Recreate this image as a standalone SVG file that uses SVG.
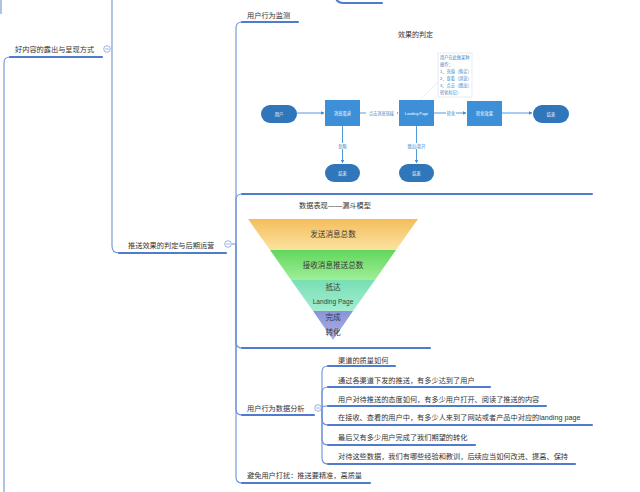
<svg xmlns="http://www.w3.org/2000/svg" width="640" height="492" viewBox="0 0 640 492">
<defs>
<style>
.t{font-family:"Liberation Sans","Noto Sans CJK SC",sans-serif;font-size:7.2px;fill:#333}
.ul{fill:none;stroke:#4f7ccf;stroke-width:2.2;stroke-linecap:round}
.br{fill:none;stroke:#6d92d8;stroke-width:1.1}
.cc{fill:#fff;stroke:#7f9edb;stroke-width:0.8}
.cm{stroke:#7f9edb;stroke-width:0.8}
.fr{fill:#3d8fd8}
.fp{fill:#2f76bb}
.fw{font-family:"Liberation Sans","Noto Sans CJK SC",sans-serif;font-size:4.2px;fill:#fff;text-anchor:middle}
.fl{fill:none;stroke:#3d8fd8;stroke-width:0.9}
.fs{font-family:"Liberation Sans","Noto Sans CJK SC",sans-serif;font-size:4.2px;fill:#3a7fc6}
.fu{font-family:"Liberation Serif","Noto Sans CJK SC",serif;font-size:7.6px;fill:#3a3a3a;text-anchor:middle}
</style>
<marker id="ah" viewBox="0 0 6 6" refX="5.5" refY="3" markerWidth="4" markerHeight="4" orient="auto"><path d="M0,0 L6,3 L0,6 z" fill="#3d8fd8"/></marker>
<linearGradient id="g1" x1="0" y1="0" x2="0" y2="1"><stop offset="0" stop-color="#f4bd5c"/><stop offset="1" stop-color="#fbe3a0"/></linearGradient>
<linearGradient id="g2" x1="0" y1="0" x2="0" y2="1"><stop offset="0" stop-color="#62d65c"/><stop offset="1" stop-color="#9eef98"/></linearGradient>
<linearGradient id="g3" x1="0" y1="0" x2="0" y2="1"><stop offset="0" stop-color="#78dfb4"/><stop offset="1" stop-color="#a3ecd2"/></linearGradient>
<linearGradient id="g4" x1="0" y1="0" x2="0" y2="1"><stop offset="0" stop-color="#8b93d6"/><stop offset="1" stop-color="#aab0e6"/></linearGradient>
</defs>
<rect width="640" height="492" fill="#fff"/>

<g id="connectors">
<path class="br" d="M1 0 V14"/>
<path class="br" d="M4 492 V63 Q4 57 10 57"/>
<path class="ul" d="M10 57 H102"/>
<path class="br" d="M112 0 V246 Q112 253 119 253"/>
<path class="ul" d="M119 253 H226"/>
<path class="ul" d="M336 -4 Q336 3 343 3 H382"/>
<path class="br" d="M232 244 H236 V28 Q236 22 242 22"/>
<path class="ul" d="M242 22 H298"/>
<path class="br" d="M236 244 V200 Q236 194 242 194"/>
<path class="ul" d="M242 194 H592"/>
<path class="br" d="M236 244 V342 Q236 348 242 348"/>
<path class="ul" d="M242 348 H430"/>
<path class="br" d="M236 244 V409 Q236 415 242 415"/>
<path class="ul" d="M242 415 H314"/>
<path class="br" d="M236 244 V477 Q236 483 242 483"/>
<path class="ul" d="M242 483 H370"/>
<path class="br" d="M322 408 V372 Q322 366 328 366"/>
<path class="ul" d="M328 366 H395"/>
<path class="br" d="M322 408 V393 Q322 387 328 387"/>
<path class="ul" d="M328 387 H490"/>
<path class="br" d="M322 408 C322 406 324 406 328 406"/>
<path class="ul" d="M328 406 H546"/>
<path class="br" d="M322 408 V419 Q322 425 328 425"/>
<path class="ul" d="M328 425 H592"/>
<path class="br" d="M322 408 V439 Q322 445 328 445"/>
<path class="ul" d="M328 445 H475"/>
<path class="br" d="M322 408 V458 Q322 464 328 464"/>
<path class="ul" d="M328 464 H575"/>
</g>

<g id="n-haoneirong">
<text class="t" x="15" y="51.6">好内容的露出与呈现方式</text>
<circle class="cc" cx="107" cy="49" r="3.3"/><line class="cm" x1="105.2" y1="49" x2="108.8" y2="49"/>
</g>

<g id="n-tuisong">
<text class="t" x="128" y="247.6">推送效果的判定与后期运营</text>
<circle class="cc" cx="228" cy="244" r="3.3"/><line class="cm" x1="226.2" y1="244" x2="229.8" y2="244"/>
</g>

<g id="n-jiance">
<text class="t" x="247" y="17.6">用户行为监测</text>
</g>

<g id="n-xiaoguo">
<text class="t" x="398" y="36.5" style="font-size:7px">效果的判定</text>
<rect class="fp" x="261" y="105" width="36" height="18" rx="9"/>
<text class="fw" x="279" y="115.5">用户</text>
<rect class="fr" x="325" y="100" width="35" height="26"/>
<text class="fw" x="342.5" y="114.5">消息渠道</text>
<rect class="fr" x="399" y="100" width="35" height="26"/>
<text class="fw" x="416.5" y="114.5" style="font-size:3.8px">Landing Page</text>
<rect class="fr" x="467" y="101" width="35" height="25"/>
<text class="fw" x="484.5" y="115">转化效果</text>
<rect class="fp" x="533" y="105" width="36" height="18" rx="9"/>
<text class="fw" x="551" y="115.5">结束</text>
<rect class="fp" x="325" y="164" width="35" height="18" rx="9"/>
<text class="fw" x="342.5" y="174.5">结束</text>
<rect class="fp" x="399" y="164" width="35" height="18" rx="9"/>
<text class="fw" x="416.5" y="174.5">结束</text>
<line class="fl" x1="297" y1="113" x2="324" y2="113" marker-end="url(#ah)"/>
<line class="fl" x1="360" y1="113" x2="398" y2="113" marker-end="url(#ah)"/>
<rect x="366" y="110" width="31" height="6" fill="#fff"/>
<text class="fs" x="381.5" y="114.5" text-anchor="middle">点击消息链接</text>
<line class="fl" x1="434" y1="113" x2="466" y2="113" marker-end="url(#ah)"/>
<rect x="446" y="110" width="10" height="6" fill="#fff"/>
<text class="fs" x="451" y="114.5" text-anchor="middle">转化</text>
<line class="fl" x1="502" y1="113" x2="532" y2="113" marker-end="url(#ah)"/>
<line class="fl" x1="342.5" y1="126" x2="342.5" y2="163" marker-end="url(#ah)"/>
<rect x="337" y="143" width="11" height="6" fill="#fff"/>
<text class="fs" x="342.5" y="147.5" text-anchor="middle">忽略</text>
<line class="fl" x1="416.5" y1="126" x2="416.5" y2="163" marker-end="url(#ah)"/>
<rect x="406" y="143" width="21" height="6" fill="#fff"/>
<text class="fs" x="416.5" y="147.5" text-anchor="middle">跳出/离开</text>
<line x1="438" y1="82" x2="420" y2="100" stroke="#d8dde4" stroke-width="0.8" stroke-dasharray="2 1"/>
<rect x="438" y="53" width="34" height="44" fill="#fff" stroke="#d6dde6" stroke-width="0.6"/>
<text class="fs" x="440" y="59">用户在此做某种</text>
<text class="fs" x="440" y="66">操作：</text>
<text class="fs" x="440" y="73">1、充值（购买）</text>
<text class="fs" x="440" y="80">2、查看（浏览）</text>
<text class="fs" x="440" y="87">3、点击（跳出）</text>
<text class="fs" x="440" y="94">转化标记）</text>
</g>

<g id="n-loudou">
<text class="t" x="299" y="207.5">数据表现——漏斗模型</text>
<polygon points="248,219 418,219 396,250 270,250" fill="url(#g1)"/>
<polygon points="270,250 396,250 375,280 291,280" fill="url(#g2)"/>
<polygon points="291,280 375,280 353,311 313,311" fill="url(#g3)"/>
<polygon points="313,311 353,311 333,340" fill="url(#g4)"/>
<text class="fu" x="333" y="236.8">发送消息总数</text>
<text class="fu" x="333" y="267.8">接收消息推送总数</text>
<text class="fu" x="333" y="289.8">抵达</text>
<text x="333" y="303.5" text-anchor="middle" style="font-family:'Liberation Sans',sans-serif;font-size:6.6px;fill:#23523a">Landing Page</text>
<text class="fu" x="333" y="319.8">完成</text>
<text class="fu" x="333" y="334.8">转化</text>
</g>

<g id="n-fenxi">
<text class="t" x="247" y="410.6">用户行为数据分析</text>
<circle class="cc" cx="318" cy="408" r="3.3"/><line class="cm" x1="316.2" y1="408" x2="319.8" y2="408"/>
</g>
<g id="n-c1"><text class="t" x="338" y="362.6">渠道的质量如何</text></g>
<g id="n-c2"><text class="t" x="338" y="382.6">通过各渠道下发的推送，有多少达到了用户</text></g>
<g id="n-c3"><text class="t" x="338" y="401.6">用户对待推送的态度如何，有多少用户打开、阅读了推送的内容</text></g>
<g id="n-c4"><text class="t" x="338" y="420">在接收、查看的用户中，有多少人来到了网站或者产品中对应的landing page</text></g>
<g id="n-c5"><text class="t" x="338" y="439.6">最后又有多少用户完成了我们期望的转化</text></g>
<g id="n-c6"><text class="t" x="338" y="458.6">对待这些数据，我们有哪些经验和教训，后续应当如何改进、提高、保持</text></g>
<g id="n-bimian"><text class="t" x="247" y="477.6">避免用户打扰：推送要精准，高质量</text></g>
</svg>
